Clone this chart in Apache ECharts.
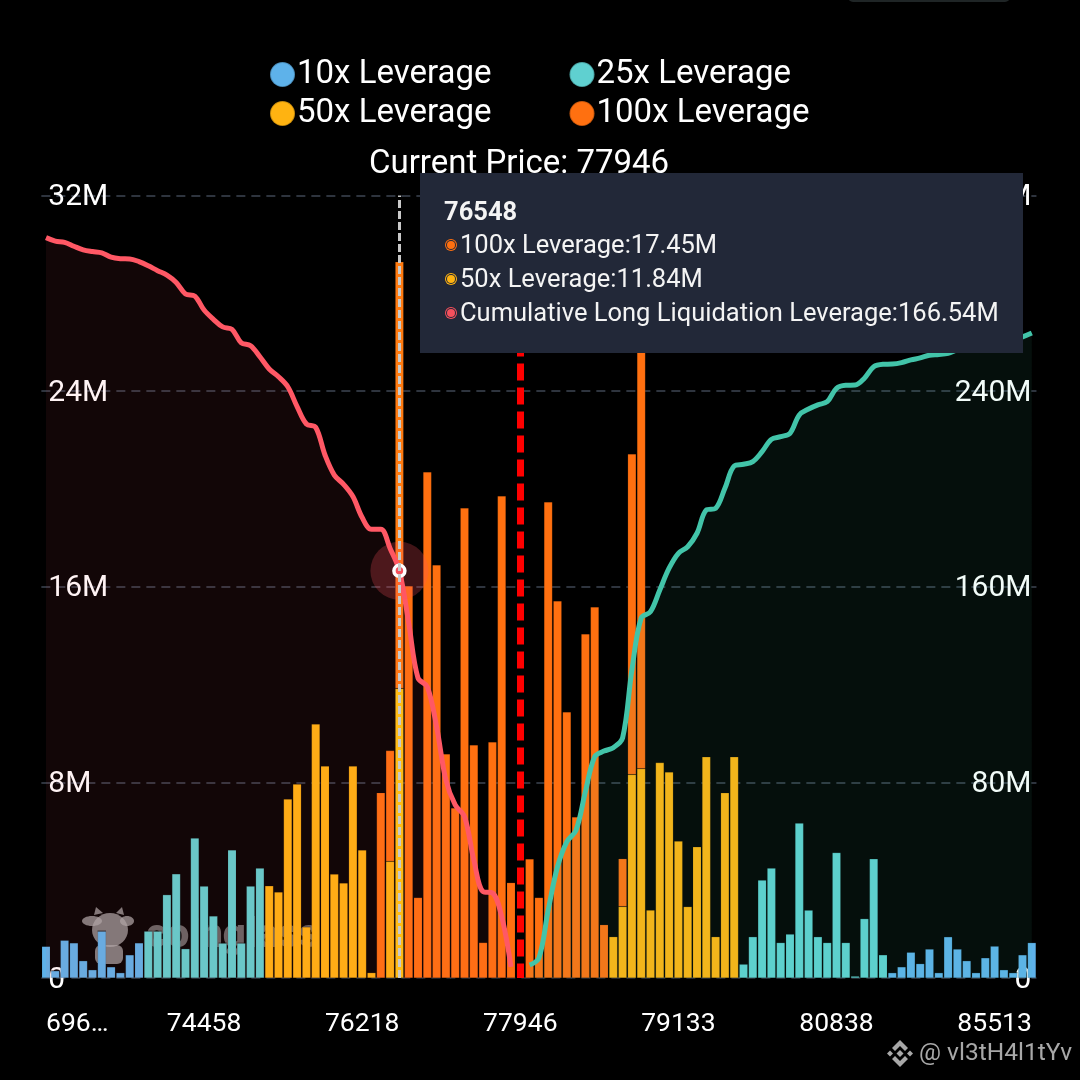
<!DOCTYPE html>
<html>
<head>
<meta charset="utf-8">
<style>html,body{margin:0;padding:0;background:#000}#c{width:1080px;height:1080px}</style>
<script src="https://cdn.jsdelivr.net/npm/echarts@6/dist/echarts.min.js"></script>
</head>
<body>
<div id="c"></div>
<script>
const prices = ['69612','70180','70710','71160','71560','71900','72210','72480','72720','72940',
'73140','73330','73510','73680','73850','74010','74240','74458','74560','74670',
'74790','74900','75010','75120','75230','75340','75450','75550','75650','75750',
'75850','75950','76040','76130','76218','76300','76380','76465','76548','76630',
'76720','76810','76900','77000','77100','77200','77300','77410','77520','77630',
'77760','77946','78000','78060','78130','78200','78270','78340','78410','78480',
'78550','78620','78690','78760','78830','78900','78970','79050','79133','79220',
'79310','79400','79490','79580','79670','79760','79850','79950','80050','80150',
'80260','80370','80480','80600','80720','80838','80980','81120','81280','81450',
'81640','81850','82080','82330','82600','82880','83180','83490','83800','84100',
'84480','84980','85513','86100','86750','87500','88300'];
const firstTickLabel = '696…';
const title = 'Current Price: 77946';
const seriesNames = ['10x Leverage','25x Leverage','50x Leverage','100x Leverage'];
const longName = 'Cumulative Long Liquidation Leverage';
const shortName = 'Cumulative Short Liquidation Leverage';
const bars10 = [1.3,0.3,1.55,1.44,0.71,0.34,1.92,0.46,0.22,0.95,
1.44,0,0,0,0,0,0,0,0,0,
0,0,0,0,0,0,0,0,0,0,
0,0,0,0,0,0,0,0,0,0,
0,0,0,0,0,0,0,0,0,0,
0,0,0,0,0,0,0,0,0,0,
0,0,0,0,0,0,0,0,0,0,
0,0,0,0,0,0,0,0,0,0,
0,0,0,0,0,0,0,0,0,0,
0,0.22,0.46,1.06,0.59,1.19,0.22,1.69,1.19,0.71,
0.22,0.83,1.31,0.34,0.22,0.95,1.45];
const bars25 = [0,0,0,0,0,0,0,0,0,0,
0,1.92,1.92,3.41,4.26,1.2,5.73,3.76,2.54,1.43,
5.24,1.43,3.76,4.5,0,0,0,0,0,0,
0,0,0,0,0,0,0,0,0,0,
0,0,0,0,0,0,0,0,0,0,
0,0,0,0,0,0,0,0,0,0,
0,0,0,0,0,0,0,0,0,0,
0,0,0,0,0,0.57,1.69,4.01,4.5,1.45,
1.8,6.34,2.78,1.69,1.45,5.13,1.45,0.08,2.43,4.88,
0.95,0,0,0,0,0,0,0,0,0,
0,0,0,0,0,0,0];
const bars50 = [0,0,0,0,0,0,0,0,0,0,
0,0,0,0,0,0,0,0,0,0,
0,0,0,0,3.77,3.52,7.32,7.93,2.09,10.39,
8.67,4.25,3.89,8.67,5.24,0.22,0,4.77,11.84,0,
0,0,0,0,0,0,0,0,0,0,
0,0,0,0,0,0,0,0,0,0,
0,1.69,2.92,8.32,8.56,2.78,8.81,8.43,5.6,2.92,
5.37,9.05,1.69,7.58,9.05,0,0,0,0,0,
0,0,0,0,0,0,0,0,0,0,
0,0,0,0,0,0,0,0,0,0,
0,0,0,0,0,0,0];
const bars100 = [0,0,0,0,0,0,0,0,0,0,
0,0,0,0,0,0,0,0,0,0,
0,0,0,0,0,0,0,0,0,0,
0,0,0,0,0,0,7.58,4.53,17.45,16.03,
3.29,20.7,16.89,9.16,6.95,19.22,9.53,1.45,9.65,19.71,
3.9,0,4.87,3.29,19.47,15.42,10.88,6.58,14.07,15.17,
2.18,0,1.96,13.11,18.4,0,0,0,0,0,
0,0,0,0,0,0,0,0,0,0,
0,0,0,0,0,0,0,0,0,0,
0,0,0,0,0,0,0,0,0,0,
0,0,0,0,0,0,0];
const cumLong = [302.8,301.4,300.9,299.3,297.8,297.1,296.6,294.8,294.2,294.1,
293.0,291.3,289.3,287.5,284.5,279.8,278.9,273.2,269.4,266.3,
265.3,259.8,258.6,254.1,249.1,245.9,241.8,233.7,226.6,225.2,
213.9,205.7,201.9,196.9,188.3,183.5,183.5,175.7,166.54,145.2,
122.7,119.1,102.8,81.0,70.8,66.0,48.3,35.3,34.8,25.1,
4.6,null,null,null,null,null,null,null,null,null,
null,null,null,null,null,null,null,null,null,null,
null,null,null,null,null,null,null,null,null,null,
null,null,null,null,null,null,null,null,null,null,
null,null,null,null,null,null,null,null,null,null,
null,null,null,null,null,null,null];
const cumShort = [null,null,null,null,null,null,null,null,null,null,
null,null,null,null,null,null,null,null,null,null,
null,null,null,null,null,null,null,null,null,null,
null,null,null,null,null,null,null,null,null,null,
null,null,null,null,null,null,null,null,null,null,
null,null,5.3,8.2,27.8,45.5,55.7,60.5,76.2,90.5,
92.8,94.2,98.2,126,147.2,149.8,158.7,167.6,173.7,176.4,
181.9,191.4,192.1,200.3,209.4,210.1,211.2,215.3,220.3,221.4,
222.8,230.3,232.7,234.4,235.7,241.2,242.4,242.5,245.3,250,
251,251.1,251.7,252.8,253.6,254.7,255,255.5,256.9,257.7,
258.5,258.9,259.3,260.1,260.9,262.2,263.8];
const hoverIndex = 38;
const priceIndex = 51;

const FONT = 'Roboto';
const colors = {c10:'#5EB2EA', c25:'#5FD0D0', c50:'#FFB311', c100:'#FF7010', red:'#F5505C', teal:'#3CB39A'};
function bar(name, data, color){
  return {name, type:'bar', stack:'liq', data, barWidth:8.5, z:2, silent:true,
    itemStyle:{color, borderColor:'rgba(0,0,0,0.22)', borderWidth:0.5}};
}
function marker(c){
  return '<span style="display:inline-block;width:8px;height:8px;border-radius:50%;background:'+c+
   ';box-shadow:0 0 0 1px #222838,0 0 0 2px '+c+';margin:0 5px 2px 3px;vertical-align:middle"></span>';
}
const chart = echarts.init(document.getElementById('c'), null, {renderer:'canvas'});
chart.setOption({
  animation:false,
  backgroundColor:'#000',
  textStyle:{fontFamily:FONT},
  title:{text:title, top:148, itemGap:0, padding:0, left:369,
    textStyle:{color:'#fff', fontSize:33, fontWeight:'normal', fontFamily:FONT}},
  legend:[
    {data:seriesNames.slice(0,2), left:269, top:58, itemWidth:25, itemHeight:25, itemGap:77, padding:0, icon:'circle',
     textStyle:{color:'#fff', fontSize:33, fontFamily:FONT, padding:[0,0,0,-3]}},
    {data:seriesNames.slice(2,4), left:269, top:97, itemWidth:25, itemHeight:25, itemGap:77, padding:0, icon:'circle',
     textStyle:{color:'#fff', fontSize:33, fontFamily:FONT, padding:[0,0,0,-3]}}
  ],
  grid:{left:41.35, width:995.1, top:195.6, height:782.4, containLabel:false, outerBoundsMode:'none'},
  xAxis:{type:'category', data:prices, boundaryGap:true,
    axisLine:{show:false}, axisTick:{show:false},
    axisLabel:{interval:16, color:'#fff', fontSize:26.5, fontFamily:FONT, margin:33, alignMinLabel:'left', hideOverlap:false,
      formatter:(v,i)=> i===0 ? firstTickLabel : v}},
  yAxis:[
    {type:'value', min:0, max:32, interval:8, position:'left',
     axisLine:{show:false}, axisTick:{show:false},
     axisLabel:{inside:true, margin:7, color:'#fff', fontSize:30, fontFamily:FONT, lineHeight:36, verticalAlign:'top', verticalAlignMinLabel:'top', verticalAlignMaxLabel:'top', padding:[-16,0,0,0], formatter:v=>v===0?'0':v+'M'},
     splitLine:{show:true, lineStyle:{color:'#2e343e', width:2, type:[9,6]}}},
    {type:'value', min:0, max:320, interval:80, position:'right',
     axisLine:{show:false}, axisTick:{show:false},
     axisLabel:{inside:true, margin:5, color:'#fff', fontSize:30, fontFamily:FONT, lineHeight:36, verticalAlign:'top', verticalAlignMinLabel:'top', verticalAlignMaxLabel:'top', padding:[-16,0,0,0], formatter:v=>v===0?'0':v+'M'},
     splitLine:{show:false}}
  ],
  tooltip:{trigger:'axis', triggerOn:'none', alwaysShowContent:true, transitionDuration:0,
    position:[420,173], backgroundColor:'#222838', borderWidth:0, padding:[20,0,0,24],
    extraCssText:'box-shadow:none;border-radius:0;width:603px;height:180px;box-sizing:border-box;',
    textStyle:{color:'#fff', fontSize:25.5, fontFamily:FONT},
    axisPointer:{type:'line', z:10, lineStyle:{color:'#c9c9c9', width:3, type:[8,3]}},
    formatter:()=>{
      const i = hoverIndex;
      return '<div style="font:25.5px/34px '+FONT+';color:#f4f4f4;white-space:nowrap">'+
        '<div style="font-weight:bold;position:relative;top:1px">'+prices[i]+'</div>'+
        '<div>'+marker(colors.c100)+seriesNames[3]+':'+bars100[i].toFixed(2)+'M</div>'+
        '<div>'+marker(colors.c50)+seriesNames[2]+':'+bars50[i].toFixed(2)+'M</div>'+
        '<div>'+marker(colors.red)+longName+':'+cumLong[i].toFixed(2)+'M</div></div>';
    }},
  series:[
    bar(seriesNames[0], bars10, colors.c10),
    bar(seriesNames[1], bars25, colors.c25),
    bar(seriesNames[2], bars50, colors.c50),
    bar(seriesNames[3], bars100, colors.c100),
    {name:longName, type:'line', yAxisIndex:1, data:cumLong, smooth:0.35, showSymbol:false, z:4, silent:true,
     lineStyle:{color:colors.red, width:5}, itemStyle:{color:colors.red}, areaStyle:{color:'rgba(255,80,90,0.10)'},
     markLine:{silent:true, symbol:'none', animation:false, z:3, label:{show:false},
       lineStyle:{color:'#ff0000', width:7, type:[17,7], cap:'butt'},
       data:[[{xAxis:priceIndex, yAxis:320},{xAxis:priceIndex, yAxis:0}]]},
     markPoint:{silent:true, animation:false, label:{show:false}, z:6, data:[
       {coord:[hoverIndex,cumLong[hoverIndex]], symbol:'circle', symbolSize:58, itemStyle:{color:'rgba(255,80,90,0.25)'}},
       {coord:[hoverIndex,cumLong[hoverIndex]], symbol:'circle', symbolSize:11, itemStyle:{color:colors.red, borderColor:'#fff', borderWidth:3.5}}
     ]}},
    {name:shortName, type:'line', yAxisIndex:1, data:cumShort, smooth:0.35, showSymbol:false, z:4, silent:true,
     lineStyle:{color:colors.teal, width:5}, itemStyle:{color:colors.teal}, areaStyle:{color:'rgba(64,190,160,0.10)'}}
  ],
  color:[colors.c10, colors.c25, colors.c50, colors.c100],
  graphic:[
    {type:'group', z:100, silent:true, children:[
      {type:'ellipse', shape:{cx:110, cy:930, rx:18, ry:17}, style:{fill:'rgba(170,170,170,0.72)'}},
      {type:'ellipse', shape:{cx:92, cy:921, rx:10, ry:5}, style:{fill:'rgba(170,170,170,0.72)'}},
      {type:'ellipse', shape:{cx:127, cy:921, rx:7, ry:5}, style:{fill:'rgba(170,170,170,0.72)'}},
      {type:'polygon', shape:{points:[[94,915],[96,907],[103,913]]}, style:{fill:'rgba(170,170,170,0.72)'}},
      {type:'polygon', shape:{points:[[116,913],[122,907],[124,915]]}, style:{fill:'rgba(170,170,170,0.72)'}},
      {type:'rect', shape:{x:95, y:945, width:28, height:19, r:6}, style:{fill:'rgba(170,170,170,0.72)'}},
      {type:'text', style:{x:146, y:937, text:'coinglass', fill:'rgba(165,165,165,0.6)', font:'900 40px Roboto', textVerticalAlign:'middle'}}
    ]},
    {type:'group', z:100, silent:true, children:[
      {type:'polygon', shape:{points:[[900,1040],[908,1048],[905,1051],[900,1046],[895,1051],[892,1048]]}, style:{fill:'#a8a8a8'}},
      {type:'polygon', shape:{points:[[900,1067],[908,1059],[905,1056],[900,1061],[895,1056],[892,1059]]}, style:{fill:'#a8a8a8'}},
      {type:'polygon', shape:{points:[[900,1050],[903.5,1053.5],[900,1057],[896.5,1053.5]]}, style:{fill:'#a8a8a8'}},
      {type:'polygon', shape:{points:[[890,1050.5],[893,1053.5],[890,1056.5],[887,1053.5]]}, style:{fill:'#a8a8a8'}},
      {type:'polygon', shape:{points:[[910,1050.5],[913,1053.5],[910,1056.5],[907,1053.5]]}, style:{fill:'#a8a8a8'}},
      {type:'text', style:{x:919, y:1054, text:'@ vl3tH4l1tYv', fill:'#a8a8a8', font:'24.5px Roboto', textVerticalAlign:'middle'}}
    ]},
    {type:'rect', z:100, silent:true, shape:{x:848, y:-8, width:162, height:10, r:6}, style:{fill:'#1f2526'}}
  ]
});
chart.dispatchAction({type:'showTip', seriesIndex:3, dataIndex:hoverIndex});
</script>
</body>
</html>
